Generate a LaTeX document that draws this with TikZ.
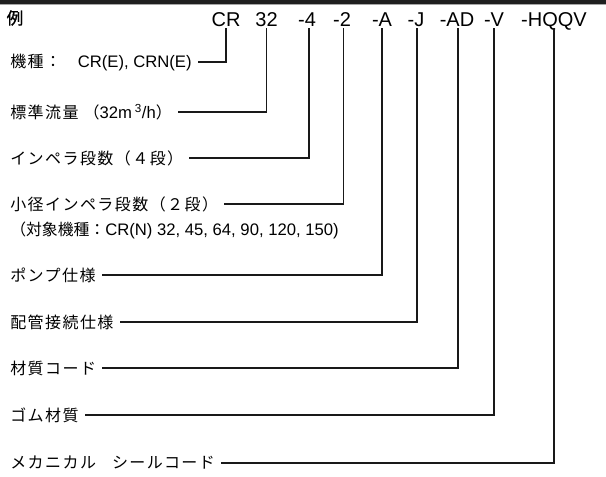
\documentclass[tikz,border=0pt]{standalone}
\usepackage{fontspec}
\setmainfont{Liberation Sans}
\newfontfamily\jp[Scale=0.96, LetterSpace=9]{Noto Sans CJK JP}
\newfontfamily\jpn[Scale=0.95]{Noto Sans CJK JP}
\newfontfamily\jpbold[FakeBold=1.2]{Noto Sans CJK JP}
\usetikzlibrary{positioning}

\begin{document}
\begin{tikzpicture}[
  x=0.75pt, y=-0.75pt,
  codenode/.style={anchor=base, inner sep=0pt, text depth=0pt, outer ysep=1.5pt, font=\fontsize{15}{18}\selectfont},
  labelnode/.style={anchor=west, inner xsep=4.5pt, inner ysep=0pt, font=\fontsize{12.5}{15}\selectfont},
  leader/.style={line width=1.1pt, black!90}
]
\useasboundingbox (0,0) rectangle (606,476);

% top rule
\fill[black!88] (0,0) rectangle (606,4);
\draw[black!35, line width=0.75pt] (0,4.5) -- (606,4.5);

\node[inner sep=0pt, font=\jpbold\fontsize{12.5}{15}\selectfont] (rei) at (15,18) {例};

% model code
\node[codenode] (cCR) at (226,26) {CR};
\node[codenode] (c32) at (266.5,26) {32};
\node[codenode] (c4) at (307,26) {-4};
\node[codenode] (c2) at (342,26) {-2};
\node[codenode] (cA) at (382,26) {-A};
\node[codenode] (cJ) at (416,26) {-J};
\node[codenode] (cAD) at (457,26) {-AD};
\node[codenode] (cV) at (494,26) {-V};
\node[codenode] (cHQQV) at (554,26) {-HQQV};

% labels
\node[labelnode] (model) at (4,62) {{\jp 機種：}\hspace{1em}CR(E), CRN(E)};
\node[labelnode] (flow) at (4,112) {{\jp 標準流量 （}32m\,\textsuperscript{3}/h{\jp ）}};
\node[labelnode] (stages) at (4,158) {\jp インペラ段数（４段）};
\node[labelnode] (small) at (4,204) {\jp 小径インペラ段数（２段）};
\node[labelnode] (note) at (4,230) {{\jpn （対象機種：}CR(N) 32, 45, 64, 90, 120, 150)};
\node[labelnode] (pump) at (4,275) {\jp ポンプ仕様};
\node[labelnode] (pipe) at (4,322) {\jp 配管接続仕様};
\node[labelnode] (material) at (4,368) {\jp 材質コード};
\node[labelnode] (rubber) at (4,415) {\jp ゴム材質};
\node[labelnode] (seal) at (4,463) {\jp メカニカル\hspace{1em}シールコード};

% leaders
\draw[leader] (cCR.south) |- (model.east);
\draw[leader] (c32.south) |- (flow.east);
\draw[leader] ([xshift=1.5pt]c4.south) |- (stages.east);
\draw[leader] ([xshift=1pt]c2.south) |- (small.east);
\draw[leader] (cA.south) |- (pump.east);
\draw[leader] ([xshift=0.75pt]cJ.south) |- (pipe.east);
\draw[leader] ([xshift=0.75pt]cAD.south) |- (material.east);
\draw[leader] (cV.south) |- (rubber.east);
\draw[leader] (cHQQV.south) |- (seal.east);

\end{tikzpicture}
\end{document}
